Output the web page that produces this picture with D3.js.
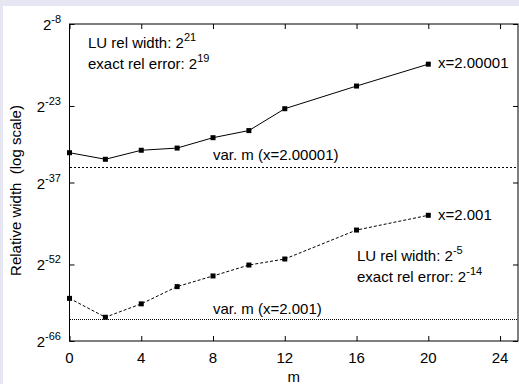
<!DOCTYPE html>
<html>
<head>
<meta charset="utf-8">
<script src="https://cdn.jsdelivr.net/npm/d3@7"></script>
<style>
  body { margin: 0; }
  svg { display: block; font-family: "Liberation Sans", Arial, sans-serif; }
</style>
</head>
<body>
<svg width="519" height="384"></svg>
<script>
// m values (x axis)
const mValues = [0, 2, 4, 6, 8, 10, 12, 16, 20]
// log2 of the relative width
const widthFine = [-31.55, -32.75, -31.1, -30.7, -28.8, -27.5, -23.5, -19.35, -15.35]   // x=2.00001
const widthCoarse = [-58.2, -61.65, -59.2, -56.05, -54.1, -52.1, -51, -45.7, -43]     // x=2.001
// horizontal reference levels (log2) for variable m
const varMFine = -34.1
const varMCoarse = -62
const xTicks = [0, 4, 8, 12, 16, 20, 24]
const yTickExps = [-8, -23, -37, -52, -66]

const w = 519
const h = 384
const plotLeft = 69.5
const plotRight = 518
const plotTop = 24
const plotBottom = 341
const fontSize = 15
const supSize = 11

const svg = d3.select("svg")

// background frame
svg.append("rect").attr("width", w).attr("height", h).attr("fill", "#e6e6f2")
svg.append("rect").attr("x", 3).attr("y", 6).attr("width", w - 3).attr("height", h - 6).attr("fill", "#fff")

const xScale = d3.scaleLinear().domain([0, 25]).range([plotLeft, plotRight])
const yScale = d3.scaleLog().base(2).domain([2 ** -66, 2 ** -8]).range([plotBottom, plotTop])

//Ticks (inward, mirrored)
const tick = 5
svg.append("g")
    .attr("transform", `translate(0, ${plotBottom})`)
    .call(d3.axisBottom(xScale).tickValues(xTicks).tickSize(-tick).tickFormat(""))
svg.append("g")
    .attr("transform", `translate(0, ${plotTop})`)
    .call(d3.axisTop(xScale).tickValues(xTicks).tickSize(-tick).tickFormat(""))
svg.append("g")
    .attr("transform", `translate(${plotLeft}, 0)`)
    .call(d3.axisLeft(yScale).tickValues(yTickExps.map(e => 2 ** e)).tickSize(-tick).tickFormat(""))
svg.append("g")
    .attr("transform", `translate(${plotRight}, 0)`)
    .call(d3.axisRight(yScale).tickValues(yTickExps.map(e => 2 ** e)).tickSize(-tick).tickFormat(""))
svg.selectAll(".domain").remove()
svg.selectAll(".tick line").attr("stroke", "#000").attr("stroke-width", 1)

//Frame
svg.append("rect")
    .attr("x", plotLeft).attr("y", plotTop)
    .attr("width", plotRight - plotLeft).attr("height", plotBottom - plotTop)
    .attr("fill", "none").attr("stroke", "#000").attr("stroke-width", 1)

//Tick labels
svg.append("g").selectAll("text")
    .data(xTicks)
    .enter()
    .append("text")
    .attr("x", d => xScale(d))
    .attr("y", plotBottom + 21.5)
    .attr("text-anchor", "middle")
    .attr("font-size", fontSize)
    .text(d => d)

const yLabels = svg.append("g").selectAll("text")
    .data(yTickExps)
    .enter()
    .append("text")
    .attr("x", 61)
    .attr("y", d => yScale(2 ** d) + 6)
    .attr("text-anchor", "end")
    .attr("font-size", fontSize)
yLabels.append("tspan").text("2")
yLabels.append("tspan").attr("font-size", supSize).attr("dy", -7).text(d => d)

//Axis titles
svg.append("text")
    .attr("x", (plotLeft + plotRight) / 2)
    .attr("y", 382)
    .attr("text-anchor", "middle")
    .attr("font-size", fontSize)
    .text("m")

svg.append("text")
    .attr("transform", `translate(21, ${(plotTop + plotBottom) / 2 + 8}) rotate(-90)`)
    .attr("text-anchor", "middle")
    .attr("font-size", fontSize)
    .attr("xml:space", "preserve")
    .text("Relative width  (log scale)")

//Reference lines
function refLine(level, dash) {
    svg.append("line")
        .attr("x1", plotLeft).attr("x2", plotRight)
        .attr("y1", Math.round(yScale(2 ** level)) + 0.5).attr("y2", Math.round(yScale(2 ** level)) + 0.5)
        .attr("stroke", "#000").attr("stroke-width", 1)
        .attr("stroke-dasharray", dash)
        .attr("shape-rendering", "crispEdges")
}
refLine(varMFine, "2,2")
refLine(varMCoarse, "1,1")

//Series
const line = d3.line()
    .x(d => xScale(d[0]))
    .y(d => yScale(2 ** d[1]))

function series(values, dash) {
    const pts = mValues.map((m, i) => [m, values[i]])
    svg.append("path")
        .datum(pts)
        .attr("d", line)
        .attr("fill", "none")
        .attr("stroke", "#000")
        .attr("stroke-width", 1)
        .attr("stroke-dasharray", dash)
    svg.append("g").selectAll("rect")
        .data(pts)
        .enter()
        .append("rect")
        .attr("x", d => xScale(d[0]) - 2.5)
        .attr("y", d => yScale(2 ** d[1]) - 2.5)
        .attr("width", 5)
        .attr("height", 5)
        .attr("fill", "#000")
}
series(widthFine, null)
series(widthCoarse, "3,2")

//Annotations
function label(x, y, txt, sup) {
    const t = svg.append("text")
        .attr("x", x).attr("y", y)
        .attr("font-size", fontSize)
        .attr("xml:space", "preserve")
    t.append("tspan").text(txt)
    if (sup !== undefined) t.append("tspan").attr("font-size", supSize).attr("dy", -7).text(sup)
}
label(88, 48, "LU rel width: 2", "21")
label(88, 69, "exact rel error: 2", "19")
label(438, 68, "x=2.00001")
label(213, 160, "var. m (x=2.00001)")
label(438, 220, "x=2.001")
label(213, 314, "var. m (x=2.001)")
label(357, 261, "LU rel width: 2", "-5")
label(357, 282, "exact rel error: 2", "-14")
</script>
</body>
</html>
